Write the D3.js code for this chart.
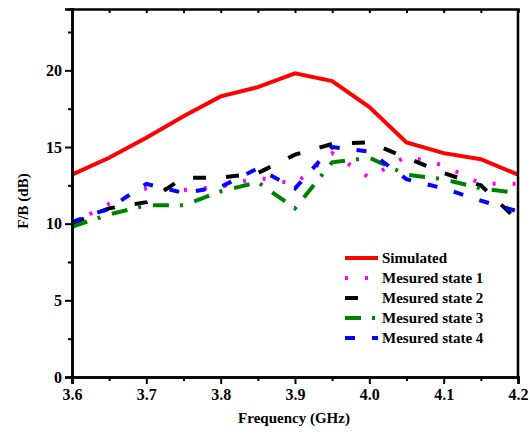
<!DOCTYPE html>
<html>
<head>
<meta charset="utf-8">
<script src="https://cdn.jsdelivr.net/npm/d3@7"></script>
<style>
  body { margin: 0; background: #fff; }
</style>
</head>
<body>
<svg width="530" height="435"></svg>
<script>
const freq = [3.6, 3.65, 3.7, 3.75, 3.8, 3.85, 3.9, 3.95, 4.0, 4.05, 4.1, 4.15, 4.2];
const simulated = [13.2, 14.3, 15.6, 17.0, 18.3, 18.9, 19.8, 19.3, 17.6, 15.3, 14.6, 14.2, 13.2];
const state1 = [10.0, 11.3, 12.3, 12.2, 12.4, 13.0, 12.6, 14.6, 13.0, 14.4, 13.8, 12.6, 12.6];
const state2 = [10.0, 11.0, 11.4, 13.0, 13.0, 13.3, 14.5, 15.2, 15.3, 14.3, 13.3, 12.5, 10.2];
const state3 = [9.8, 10.6, 11.2, 11.2, 12.1, 12.7, 11.0, 14.0, 14.3, 13.2, 12.9, 12.3, 12.0];
const state4 = [10.1, 11.0, 12.6, 12.0, 12.4, 13.6, 12.3, 15.0, 14.7, 12.9, 12.3, 11.5, 10.8];
const xTicks = [3.6, 3.7, 3.8, 3.9, 4.0, 4.1, 4.2];
const yTicks = [0, 5, 10, 15, 20];

const series = [
  {name: "Simulated", values: simulated, color: "#ff0000", dash: null},
  {name: "Mesured state 1", values: state1, color: "#ff00ff", dash: "3,17"},
  {name: "Mesured state 2", values: state2, color: "#000000", dash: "13,20"},
  {name: "Mesured state 3", values: state3, color: "#008000", dash: "16,11,3,12"},
  {name: "Mesured state 4", values: state4, color: "#0000ff", dash: "10,17"}
];

const FONT = "'Liberation Serif', 'Times New Roman', Times, serif";

const svg = d3.select("svg");
const margin = {top: 9, right: 12, bottom: 58, left: 72};
const width = 530 - margin.left - margin.right;
const height = 435 - margin.top - margin.bottom;
const g = svg.append("g").attr("transform", `translate(${margin.left},${margin.top})`);

const x = d3.scaleLinear().domain([3.6, 4.2]).range([0, width]);
const y = d3.scaleLinear().domain([0, 24]).range([height, 0]);

// lines
const line = d3.line().x((d, i) => x(freq[i])).y(d => y(d));
series.forEach(s => {
  g.append("path")
    .datum(s.values)
    .attr("fill", "none")
    .attr("stroke", s.color)
    .attr("stroke-width", 4)
    .attr("stroke-dasharray", s.dash)
    .attr("d", line);
});

// minor ticks
const xMinor = d3.range(3.65, 4.2, 0.1);
const yMinor = d3.range(2.5, 24, 5);

const xAxis = d3.axisBottom(x).tickValues(xTicks).tickFormat(d3.format(".1f")).tickSize(7).tickPadding(5);
const gx = g.append("g").attr("transform", `translate(0,${height})`).call(xAxis);
gx.append("g").call(d3.axisBottom(x).tickValues(xMinor).tickSize(4).tickFormat(""));

const yAxis = d3.axisLeft(y).tickValues(yTicks).tickSize(7).tickPadding(3);
const gy = g.append("g").call(yAxis);
gy.append("g").call(d3.axisLeft(y).tickValues(yMinor).tickSize(4).tickFormat(""));

// top axis, inward ticks
g.append("g").call(d3.axisTop(x).tickValues(d3.range(3.6, 4.201, 0.05)).tickSize(-4).tickFormat(""));
// right frame
g.append("line").attr("x1", width).attr("x2", width).attr("y1", 0).attr("y2", height)
  .attr("stroke", "#000").attr("stroke-width", 2.5);

svg.selectAll(".domain").attr("stroke-width", 2.5);
svg.selectAll(".tick line").attr("stroke-width", 2);
svg.selectAll("g").attr("font-family", FONT);
svg.selectAll(".tick text").attr("font-size", 16).attr("font-weight", "bold")
  .attr("font-family", FONT).attr("fill", "#000");

// axis titles
g.append("text")
  .attr("x", width / 2 - 1).attr("y", height + 46)
  .attr("text-anchor", "middle").attr("font-size", 15)
  .attr("font-family", FONT).attr("font-weight", "bold")
  .text("Frequency (GHz)");
g.append("text")
  .attr("transform", `translate(-44,${height / 2 + 8}) rotate(-90)`)
  .attr("text-anchor", "middle").attr("font-size", 15)
  .attr("font-family", FONT).attr("font-weight", "bold")
  .text("F/B (dB)");

// legend
const legend = g.append("g").attr("transform", "translate(273,249)");
series.forEach((s, i) => {
  const row = legend.append("g").attr("transform", `translate(0,${i * 20})`);
  row.append("line").attr("x1", 0).attr("x2", 33).attr("y1", 0).attr("y2", 0)
    .attr("stroke", s.color).attr("stroke-width", 4)
    .attr("stroke-dasharray", s.dash);
  row.append("text").attr("x", 37).attr("y", 5).attr("font-size", 15)
    .attr("font-family", FONT).attr("font-weight", "bold")
    .text(s.name);
});
</script>
</body>
</html>
